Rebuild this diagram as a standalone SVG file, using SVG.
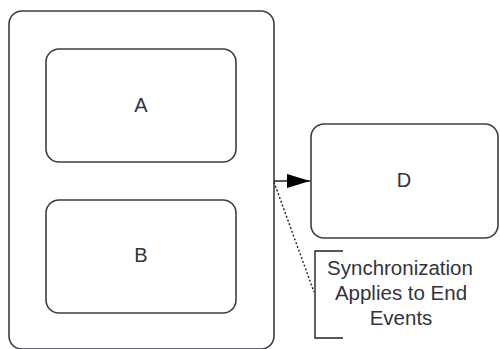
<svg xmlns="http://www.w3.org/2000/svg" width="500" height="349" viewBox="0 0 500 349">
<style>
.box{fill:#ffffff;stroke:#3c3c48;stroke-width:1.6}
.lbl{font-family:"Liberation Sans",Arial,sans-serif;font-size:20px;fill:#333340;text-anchor:middle}
.note{font-size:20.5px}
.conn{stroke:#222;stroke-width:1.4;fill:none}
</style>
<defs>
<marker id="arr" markerWidth="24" markerHeight="16" refX="23" refY="8" orient="auto" markerUnits="userSpaceOnUse">
<path d="M0,1 L23,8 L0,15 Z" fill="#000"/>
</marker>
</defs>
<rect width="500" height="349" fill="#fff"/>
<g id="outer">
<rect class="box" x="9" y="11" width="265" height="338" rx="13" ry="13"/>
</g>
<g id="A">
<rect class="box" x="46" y="49" width="190" height="113" rx="13" ry="13"/>
<text class="lbl" x="141" y="112">A</text>
</g>
<g id="B">
<rect class="box" x="46" y="200" width="190" height="113" rx="13" ry="13"/>
<text class="lbl" x="141" y="262">B</text>
</g>
<g id="D">
<rect class="box" x="311" y="124" width="187" height="114" rx="13" ry="13"/>
<text class="lbl" x="404" y="187">D</text>
</g>
<g id="annotation">
<path d="M343,251 L315,251 L315,338 L343,338" fill="none" stroke="#222" stroke-width="1.4"/>
<text class="lbl note" x="400" y="275">Synchronization</text>
<text class="lbl note" x="401" y="300">Applies to End</text>
<text class="lbl note" x="401" y="325">Events</text>
</g>
<g id="connectors">
<line class="conn" x1="274" y1="181" x2="310" y2="181" marker-end="url(#arr)"/>
<line class="conn" x1="274" y1="182" x2="314" y2="292" stroke-dasharray="2,2"/>
</g>
</svg>
